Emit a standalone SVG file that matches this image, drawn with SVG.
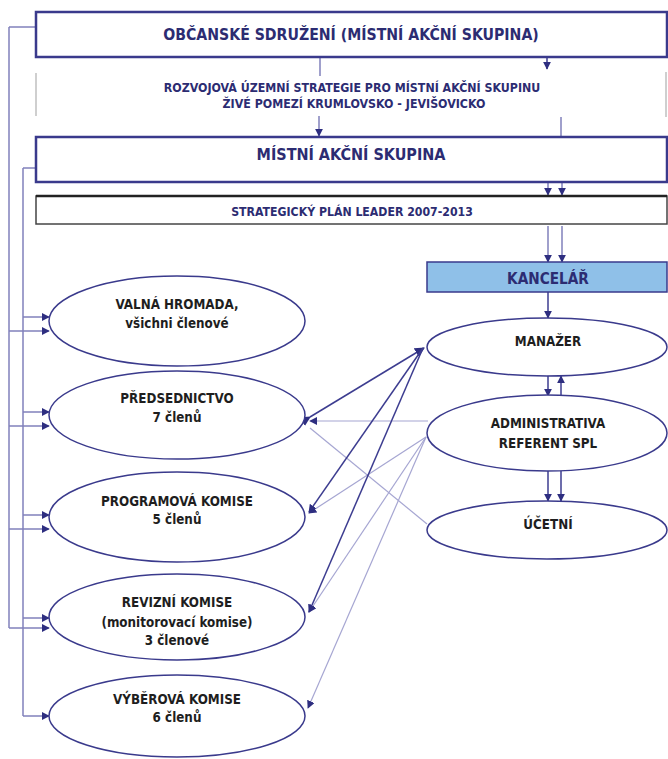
<svg xmlns="http://www.w3.org/2000/svg" width="668" height="759" viewBox="0 0 668 759">
<defs>
<marker id="ah" viewBox="0 0 10 10" refX="9" refY="5" markerWidth="8" markerHeight="8" markerUnits="userSpaceOnUse" orient="auto">
<path d="M0,0 L10,5 L0,10 z" fill="#2e2e80"/>
</marker>
<marker id="ahs" viewBox="0 0 10 10" refX="9" refY="5" markerWidth="10" markerHeight="10" markerUnits="userSpaceOnUse" orient="auto">
<path d="M0,0 L10,5 L0,10 z" fill="#2e2e80"/>
</marker>
</defs>
<style>
.box{fill:#fff;stroke:#3a3a8c;stroke-width:2.5}
.ell{fill:#fff;stroke:#3a3a8c;stroke-width:1.5}
.t{font-family:"DejaVu Sans Condensed","DejaVu Sans",sans-serif;font-weight:bold;text-anchor:middle}
.tb{fill:#2c2c72}
.te{fill:#1e1e1e;font-size:13.3px}
.dk{stroke:#3d3d90;stroke-width:1.5;fill:none}
.lt{stroke:#a6a6d2;stroke-width:1.2;fill:none}
.md{stroke:#8080bb;stroke-width:1.5;fill:none}
.gr{stroke:#cfcfcf;stroke-width:2;fill:none}
</style>
<rect width="668" height="759" fill="#fff"/>
<g id="connectors">
<line class="md" x1="9" y1="27" x2="36" y2="27"/>
<line class="md" x1="9" y1="27" x2="9" y2="628"/>
<line class="md" x1="23" y1="168" x2="36" y2="168"/>
<line class="md" x1="23" y1="168" x2="23" y2="716"/>
<line class="md" x1="23" y1="317" x2="49" y2="317" marker-end="url(#ah)"/>
<line class="md" x1="9" y1="331" x2="49" y2="331" marker-end="url(#ah)"/>
<line class="md" x1="23" y1="412" x2="49" y2="412" marker-end="url(#ah)"/>
<line class="md" x1="9" y1="426" x2="49" y2="426" marker-end="url(#ah)"/>
<line class="md" x1="23" y1="515" x2="49" y2="515" marker-end="url(#ah)"/>
<line class="md" x1="9" y1="529" x2="49" y2="529" marker-end="url(#ah)"/>
<line class="md" x1="23" y1="618" x2="49" y2="618" marker-end="url(#ah)"/>
<line class="md" x1="9" y1="628" x2="49" y2="628" marker-end="url(#ah)"/>
<line class="md" x1="23" y1="716" x2="49" y2="716" marker-end="url(#ah)"/>
<line class="md" x1="320" y1="58" x2="320" y2="76"/>
<line class="dk" x1="547" y1="58" x2="547" y2="69" marker-end="url(#ah)"/>
<line class="gr" x1="36" y1="73" x2="36" y2="116"/>
<line class="gr" x1="666" y1="72" x2="666" y2="117"/>
<line class="md" x1="319" y1="116" x2="319" y2="136" marker-end="url(#ah)"/>
<line class="md" x1="561" y1="117" x2="561" y2="137"/>
<line class="md" x1="548" y1="183" x2="548" y2="195" marker-end="url(#ah)"/>
<line class="md" x1="562" y1="183" x2="562" y2="195" marker-end="url(#ah)"/>
<line class="md" x1="548" y1="226" x2="548" y2="262" marker-end="url(#ah)"/>
<line class="md" x1="562" y1="226" x2="562" y2="262" marker-end="url(#ah)"/>
<line class="dk" x1="548" y1="292" x2="548" y2="318" marker-end="url(#ah)"/>
<line class="dk" x1="548" y1="376" x2="548" y2="396" marker-end="url(#ah)"/>
<line class="dk" x1="561" y1="396" x2="561" y2="376" marker-end="url(#ah)"/>
<line class="dk" x1="548" y1="471" x2="548" y2="501" marker-end="url(#ah)"/>
<line class="dk" x1="561" y1="471" x2="561" y2="501" marker-end="url(#ah)"/>
<line class="lt" x1="428" y1="421" x2="310" y2="421" marker-end="url(#ah)"/>
<line class="lt" x1="310" y1="428" x2="427" y2="524"/>
<line class="lt" x1="426" y1="437" x2="309" y2="513" marker-end="url(#ah)"/>
<line class="lt" x1="426" y1="437" x2="309" y2="612" marker-end="url(#ah)"/>
<line class="lt" x1="426" y1="437" x2="308" y2="708" marker-end="url(#ah)"/>
<line class="dk" x1="310" y1="417" x2="424" y2="348" marker-start="url(#ahs)" marker-end="url(#ahs)"/>
<line class="dk" x1="423" y1="348" x2="309" y2="512" marker-end="url(#ah)"/>
<line class="dk" x1="423" y1="348" x2="309" y2="612" marker-end="url(#ah)"/>
</g>
<g id="n-obcanske">
<rect class="box" x="36" y="12" width="631" height="45"/>
<text class="t tb" x="351" y="40" font-size="15.7">OBČANSKÉ SDRUŽENÍ (MÍSTNÍ AKČNÍ SKUPINA)</text>
</g>
<g id="n-strategie">
<text class="t tb" x="352" y="91.5" font-size="12.3">ROZVOJOVÁ ÚZEMNÍ STRATEGIE PRO MÍSTNÍ AKČNÍ SKUPINU</text>
<text class="t tb" x="354" y="107.5" font-size="12.3">ŽIVÉ POMEZÍ KRUMLOVSKO - JEVIŠOVICKO</text>
</g>
<g id="n-mas">
<rect class="box" x="36" y="137" width="631" height="45"/>
<text class="t tb" x="351" y="160" font-size="16">MÍSTNÍ AKČNÍ SKUPINA</text>
</g>
<g id="n-spl">
<rect x="36" y="196" width="631" height="28" fill="#fff" stroke="#444" stroke-width="1.5"/>
<line x1="36" y1="196" x2="667" y2="196" stroke="#222" stroke-width="2.5"/>
<text class="t tb" x="352" y="215.5" font-size="12.2">STRATEGICKÝ PLÁN LEADER 2007-2013</text>
</g>
<g id="n-kancelar">
<rect x="427" y="262" width="240" height="30" fill="#8fc0e8" stroke="#3a3a8c" stroke-width="1.5"/>
<text class="t tb" x="548" y="284" font-size="15.2">KANCELÁŘ</text>
</g>
<g id="n-manazer">
<ellipse class="ell" cx="547" cy="347" rx="120" ry="29"/>
<text class="t te" x="548" y="346">MANAŽER</text>
</g>
<g id="n-admin">
<ellipse class="ell" cx="547" cy="433" rx="120" ry="38"/>
<text class="t te" x="548" y="428">ADMINISTRATIVA</text>
<text class="t te" x="548" y="448">REFERENT SPL</text>
</g>
<g id="n-ucetni">
<ellipse class="ell" cx="547" cy="530" rx="120" ry="29"/>
<text class="t te" x="548" y="529">ÚČETNÍ</text>
</g>
<g id="n-valna">
<ellipse class="ell" cx="177" cy="321" rx="128" ry="45"/>
<text class="t te" x="177" y="309">VALNÁ HROMADA,</text>
<text class="t te" x="177" y="328">všichni členové</text>
</g>
<g id="n-predsednictvo">
<ellipse class="ell" cx="177" cy="415" rx="128" ry="44"/>
<text class="t te" x="177" y="403">PŘEDSEDNICTVO</text>
<text class="t te" x="177" y="422">7 členů</text>
</g>
<g id="n-programova">
<ellipse class="ell" cx="177" cy="517" rx="128" ry="45"/>
<text class="t te" x="177" y="506">PROGRAMOVÁ KOMISE</text>
<text class="t te" x="177" y="524">5 členů</text>
</g>
<g id="n-revizni">
<ellipse class="ell" cx="177" cy="617" rx="128" ry="43"/>
<text class="t te" x="177" y="607">REVIZNÍ KOMISE</text>
<text class="t te" x="177" y="627">(monitorovací komise)</text>
<text class="t te" x="177" y="645">3 členové</text>
</g>
<g id="n-vyberova">
<ellipse class="ell" cx="177" cy="716" rx="128" ry="41"/>
<text class="t te" x="177" y="704">VÝBĚROVÁ KOMISE</text>
<text class="t te" x="177" y="722">6 členů</text>
</g>
</svg>
